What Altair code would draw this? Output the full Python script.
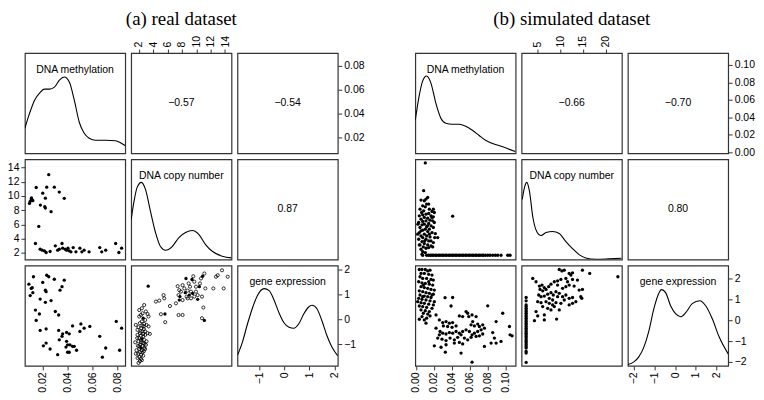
import altair as alt
import pandas as pd

# ---------------- (a) real dataset ----------------
a_meth_cn_x = [0.0248, 0.0147, 0.0232, 0.0293, 0.0200, 0.0333, 0.0221, 0.0373, 0.0107, 0.0099, 0.0115, 0.0093,
               0.0120, 0.0109, 0.0181, 0.0216, 0.0221, 0.0267, 0.0168, 0.0141, 0.0179, 0.0195, 0.0213, 0.0227,
               0.0259, 0.0301, 0.0320, 0.0333, 0.0355, 0.0360, 0.0381, 0.0392, 0.0403, 0.0413, 0.0427, 0.0445,
               0.0467, 0.0499, 0.0515, 0.0533, 0.0573, 0.0659, 0.0675, 0.0707, 0.0787, 0.0813, 0.0835]
a_meth_cn_y = [13.0, 11.2, 11.25, 11.25, 10.4, 10.55, 9.7, 9.67, 9.58, 9.25, 9.44, 8.96,
               9.34, 9.72, 8.73, 8.5, 8.3, 7.79, 5.72, 3.32, 2.52, 2.38, 2.28, 2.05,
               2.19, 2.99, 2.38, 2.52, 3.32, 2.66, 2.52, 2.38, 2.66, 2.28, 2.14, 2.75,
               2.14, 2.66, 2.14, 2.38, 2.14, 2.75, 2.14, 2.38, 3.32, 2.05, 2.66]

a_meth_ge_x = [0.0125, 0.0232, 0.0248, 0.0293, 0.0373, 0.0200, 0.0088, 0.0107, 0.0115, 0.0120, 0.0099, 0.0221,
               0.0227, 0.0355, 0.0339, 0.0179, 0.0221, 0.0267, 0.0141, 0.0173, 0.0301, 0.0328, 0.0147, 0.0179,
               0.0227, 0.0440, 0.0507, 0.0533, 0.0579, 0.0499, 0.0792, 0.0835, 0.0328, 0.0360, 0.0392, 0.0413,
               0.0355, 0.0333, 0.0392, 0.0419, 0.0400, 0.0440, 0.0387, 0.0453, 0.0472, 0.0413, 0.0400, 0.0227,
               0.0205, 0.0259, 0.0320, 0.0659, 0.0707, 0.0819, 0.0680]
a_meth_ge_y = [1.71, 1.77, 1.71, 1.61, 1.57, 1.48, 1.41, 1.24, 1.27, 1.07, 0.95, 1.17,
               1.11, 1.31, 1.17, 0.81, 0.68, 0.75, 0.37, 0.21, 0.31, 0.17, -0.05, -0.45,
               -0.39, -0.27, -0.19, -0.36, -0.29, -0.49, -0.09, -0.36, -0.45, -0.59, -0.53, -0.59,
               -0.69, -0.83, -0.89, -1.03, -1.03, -1.09, -1.12, -1.09, -1.25, -1.33, -1.33, -0.96,
               -1.07, -1.2, -1.43, -0.69, -1.16, -1.25, -1.53]

# copy number vs gene expression: open circles
a_cn_ge_open_x = [2.74, 2.98, 2.51, 2.28, 2.05, 2.88, 2.42, 2.14, 2.74, 2.51, 1.95, 2.33, 2.70, 3.07, 3.35,
                  3.21, 3.53, 2.88, 2.51, 2.14, 1.81, 2.28, 2.60, 2.05, 2.74, 1.95, 2.33, 1.49, 2.60,
                  2.19, 1.86, 2.51, 2.88, 2.05, 1.67, 2.42, 2.70, 2.14, 1.91, 1.58, 2.33, 2.60, 2.05,
                  1.81, 2.28, 2.14, 2.42, 1.95, 2.74, 2.98, 3.07, 1.81, 1.58, 2.05, 2.42, 3.21, 3.35,
                  2.88, 2.60, 2.28, 2.51, 2.05, 2.79, 1.77, 2.23, 2.70,
                  5.44, 5.53, 4.37, 4.84, 6.33, 5.07, 5.67, 7.53, 8.09, 7.40, 7.63, 7.53, 8.09, 8.33,
                  8.65, 9.26, 8.79, 9.12, 9.58, 9.72, 9.95, 10.19, 10.51, 10.65, 11.12, 11.26, 10.79,
                  8.93, 8.09, 7.86, 8.79, 9.26, 9.72, 9.95, 10.98, 10.79, 12.37, 12.74, 12.98, 13.58,
                  13.81, 14.37, 7.16]
a_cn_ge_open_y = [0.57, 0.31, 0.24, 0.17, 0.11, -0.03, -0.09, -0.16, -0.19, -0.27, -0.32, -0.36, -0.40, -0.23, -0.29,
                  -0.56, -0.59, -0.49, -0.49, -0.56, -0.63, -0.67, -0.69, -0.76, -0.83, -0.89, -0.93, -0.93, -0.96,
                  -1.03, -1.07, -1.09, -1.20, -1.20, -1.25, -1.25, -1.29, -1.33, -1.39, -1.39, -1.43, -1.47, -1.52,
                  -1.56, -1.60, -1.69, -1.65, -1.76, -1.16, -1.03, -0.89, -0.43, -0.23, 0.37, 0.44, 0.21, 0.11,
                  -0.63, -0.59, -0.85, -1.33, -1.09, -0.99, -0.76, -0.49, -0.29,
                  0.97, 0.84, 0.71, 0.75, 0.53, 0.20, -0.12, 0.17, 0.17, 1.33, 1.17, 0.97, 1.37, 1.24,
                  0.91, 0.84, 1.15, 1.31, 1.73, 1.51, 1.11, 0.97, 1.44, 1.64, 1.84, 1.24, 0.91,
                  1.44, 0.77, 1.11, 0.84, 1.11, 0.91, 1.31, 0.47, 0.04, 1.24, 1.71, 1.77, 1.97,
                  1.24, 1.71, 0.64]
# copy number vs gene expression: filled dots
a_cn_ge_dot_x = [3.30, 5.63, 7.72, 8.46, 9.02, 9.40, 10.42, 10.88, 9.49, 7.63, 8.56, 11.12, 10.19, 2.60, 2.42, 2.28]
a_cn_ge_dot_y = [1.33, 0.21, 0.91, 1.07, 0.97, 1.60, 1.31, 1.73, 1.04, 0.77, 1.64, -0.05, 0.80, 0.04, -0.80, -1.16]

# densities (diagonal)
a_meth_dx = [0.0056, 0.0094, 0.0134, 0.0174, 0.0214, 0.0254, 0.0294, 0.0334, 0.0374, 0.0414, 0.0454, 0.0494,
             0.0534, 0.0574, 0.0626, 0.0706, 0.0786, 0.0826, 0.0866]
a_meth_dy = [0.25, 0.40, 0.53, 0.60, 0.64, 0.64, 0.66, 0.73, 0.76, 0.71, 0.53, 0.31,
             0.20, 0.15, 0.13, 0.13, 0.126, 0.106, 0.076]
a_cn_dx = [0.93, 1.30, 1.76, 2.36, 2.92, 3.62, 4.32, 5.01, 5.71, 6.64, 7.58, 8.50, 9.43, 10.37, 11.29, 12.22, 13.62, 14.9]
a_cn_dy = [0.40, 0.57, 0.72, 0.77, 0.70, 0.48, 0.27, 0.13, 0.093, 0.13, 0.22, 0.27, 0.29, 0.25, 0.15, 0.083, 0.033, 0.017]
a_ge_dx = [-1.86, -1.66, -1.46, -1.26, -1.07, -0.80, -0.60, -0.41, -0.21, -0.01, 0.19, 0.38, 0.58, 0.78, 0.98,
           1.11, 1.30, 1.50, 1.70, 1.89, 2.13]
a_ge_dy = [0.105, 0.24, 0.42, 0.58, 0.70, 0.77, 0.75, 0.66, 0.53, 0.43, 0.385, 0.375, 0.42, 0.52, 0.59,
           0.605, 0.57, 0.45, 0.30, 0.19, 0.10]
a_corr = ["\u22120.57", "\u22120.54", "0.87"]

# ---------------- (b) simulated dataset ----------------
b_meth_cn_x = [0.0131, 0.0112, 0.0093, 0.0056, 0.0119, 0.0075, 0.0104, 0.0045, 0.0149, 0.0194, 0.0179, 0.0205,
               0.0142, 0.0112, 0.0075, 0.0037, 0.0168, 0.0194, 0.0093, 0.0131, 0.0056, 0.0157, 0.0112, 0.0075,
               0.0187, 0.0205, 0.0030, 0.0142, 0.0093, 0.0067, 0.0168, 0.0119, 0.0045, 0.0194, 0.0104, 0.0149,
               0.0075, 0.0131, 0.0037, 0.0179, 0.0216, 0.0093, 0.0056, 0.0119, 0.0157, 0.0243, 0.0075, 0.0030,
               0.0112, 0.0142, 0.0067, 0.0194, 0.0093, 0.0045, 0.0131, 0.0168, 0.0082, 0.0112, 0.0056, 0.0142,
               0.0075, 0.0037, 0.0187, 0.0104, 0.0019, 0.0022, 0.0067, 0.0104, 0.0086, 0.0410,
               0.0086, 0.0063, 0.0149, 0.0097, 0.0168, 0.0127, 0.0056, 0.0179, 0.0142, 0.0209]
b_meth_cn_y = [15.64, 15.27, 14.90, 15.05, 14.16, 13.79, 13.57, 13.05, 13.05, 13.05, 12.54, 12.31,
               12.09, 11.94, 11.80, 11.58, 11.58, 11.35, 11.21, 11.06, 10.84, 10.61, 10.47, 10.32,
               10.47, 10.10, 10.10, 9.88, 9.73, 9.58, 9.36, 9.14, 8.99, 8.99, 8.62, 8.62,
               8.40, 8.10, 7.88, 7.88, 7.66, 7.51, 7.14, 7.14, 6.92, 6.77, 6.77, 6.40,
               6.40, 6.03, 5.89, 5.66, 5.44, 5.15, 5.15, 4.92, 4.70, 4.41, 4.19, 4.55,
               3.67, 5.15, 4.70, 3.45, 7.51, 9.73, 3.08, 23.25, 17.12, 11.50,
               12.68, 12.31, 7.51, 6.03, 6.03, 9.36, 8.25, 11.21, 14.16, 6.77]
# samples sitting on the copy-number floor
b_cn_floor = 2.86
b_meth_floor_x = [0.0075, 0.0119, 0.0142, 0.0160, 0.0179, 0.0194, 0.0216, 0.0231, 0.0254, 0.0269, 0.0291, 0.0306,
                  0.0328, 0.0343, 0.0366, 0.0381, 0.0403, 0.0418, 0.0440, 0.0455, 0.0478, 0.0493, 0.0515, 0.0530,
                  0.0552, 0.0567, 0.0590, 0.0604, 0.0627, 0.0642, 0.0664, 0.0679, 0.0701, 0.0716, 0.0739, 0.0754,
                  0.0776, 0.0802, 0.0828, 0.0858, 0.0888, 0.0914, 0.0951, 0.1026, 0.1052]

b_meth_ge_x = [0.0037, 0.0067, 0.0104, 0.0131, 0.0157, 0.0056, 0.0093, 0.0142, 0.0179, 0.0045, 0.0075, 0.0119,
               0.0168, 0.0194, 0.0030, 0.0067, 0.0104, 0.0149, 0.0187, 0.0056, 0.0093, 0.0131, 0.0168, 0.0205,
               0.0037, 0.0075, 0.0112, 0.0149, 0.0194, 0.0045, 0.0093, 0.0131, 0.0168, 0.0030, 0.0067, 0.0112,
               0.0157, 0.0205, 0.0056, 0.0093, 0.0142, 0.0037, 0.0075, 0.0119, 0.0179, 0.0056, 0.0104, 0.0149,
               0.0082, 0.0131, 0.0067, 0.0157, 0.0119, 0.0037, 0.0093, 0.0224, 0.0019, 0.0194,
               0.0112, 0.0075, 0.0179, 0.0142, 0.0082,
               0.0261, 0.0299, 0.0336, 0.0373, 0.0410, 0.0306, 0.0354, 0.0403, 0.0448, 0.0485, 0.0522, 0.0578,
               0.0590, 0.0627, 0.0672, 0.0634, 0.0616, 0.0653, 0.0690, 0.0709, 0.0746, 0.0765, 0.0728, 0.0690,
               0.0653, 0.0627, 0.0597, 0.0560, 0.0522, 0.0485, 0.0448, 0.0410, 0.0373, 0.0336, 0.0299, 0.0261,
               0.0243, 0.0291, 0.0336, 0.0381, 0.0429, 0.0466, 0.0504, 0.0541, 0.0578, 0.0616, 0.0672, 0.0709,
               0.0746, 0.0429, 0.0485, 0.0522, 0.0336, 0.0205, 0.0280, 0.0328, 0.0504, 0.0627, 0.0765, 0.0840,
               0.0877, 0.0896, 0.0951, 0.0858, 0.0896, 0.0970, 0.1045, 0.1052, 0.1075, 0.0802, 0.0325, 0.0410,
               0.0392, 0.0560, 0.0269, 0.0224]
b_meth_ge_y = [2.45, 2.45, 2.45, 2.38, 2.42, 2.26, 2.26, 2.22, 2.18, 2.10, 2.02, 2.02,
               1.97, 1.94, 1.86, 1.81, 1.78, 1.74, 1.70, 1.62, 1.58, 1.54, 1.49, 1.46,
               1.42, 1.38, 1.33, 1.30, 1.26, 1.22, 1.17, 1.14, 1.10, 1.06, 1.01, 0.98,
               0.94, 0.90, 0.85, 0.82, 0.78, 0.69, 0.66, 0.62, 0.58, 0.50, 0.46, 0.42,
               0.34, 0.30, 0.18, 0.21, 0.10, 0.05, 0.02, 0.26, 0.90, 0.74,
               -0.14, 1.14, 1.22, 1.86, 1.70,
               0.02, -0.11, -0.06, -0.14, -0.11, -0.27, -0.30, -0.34, -0.27, 0.21, 0.18, 0.34,
               0.18, 0.26, 0.18, -0.06, -0.22, -0.27, -0.18, -0.30, -0.22, -0.38, -0.46, -0.54,
               -0.62, -0.70, -0.54, -0.46, -0.54, -0.62, -0.54, -0.62, -0.59, -0.66, -0.62, -0.70,
               -0.86, -0.91, -0.98, -0.86, -0.94, -0.82, -0.70, -0.86, -0.94, -0.82, -0.78, -0.75,
               -0.66, -1.10, -1.07, -1.14, -1.18, -1.23, -1.30, -1.54, -1.58, -2.02, -1.26, -1.10,
               -0.86, -1.10, -1.02, -0.59, -0.06, 0.34, -0.30, -0.70, -0.75, 0.70, 1.09, 1.10,
               0.69, 0.42, -0.54, -0.38]

b_cn_ge_x = [3.90, 4.63, 9.76, 10.34, 10.86, 11.95, 12.32, 12.69, 14.88, 16.49, 22.71, 5.37, 5.95, 6.46,
             5.51, 6.10, 6.83, 7.42, 7.93, 8.66, 9.39, 10.12, 11.22, 11.59, 12.69, 13.78, 14.15, 14.88,
             5.22, 5.73, 6.46, 7.20, 7.93, 8.44, 9.03, 9.76, 10.49, 11.22, 11.95, 12.69, 13.42, 14.52,
             14.74, 5.00, 5.73, 6.83, 7.56, 8.29, 9.03, 10.12, 10.86, 11.95, 12.69, 6.10, 7.20, 7.93,
             8.66, 9.76, 4.63, 5.00, 6.46, 4.27, 6.46, 9.17, 7.56, 8.29, 9.39, 10.49, 11.22, 11.95,
             13.05, 9.39]
b_cn_ge_y = [2.02, 1.86, 2.45, 2.38, 2.42, 2.26, 2.18, 2.29, 2.42, 2.26, 2.10, 1.65, 1.70, 1.58,
             1.49, 1.42, 1.49, 1.62, 1.74, 1.86, 1.90, 1.97, 2.02, 1.86, 1.97, 1.94, 1.46, 1.49,
             1.22, 1.14, 1.17, 1.26, 1.33, 1.22, 1.38, 1.30, 1.14, 1.22, 1.06, 1.10, 0.90, 1.14,
             1.06, 0.90, 0.85, 0.90, 0.82, 0.74, 0.85, 0.82, 0.98, 0.74, 0.82, 0.66, 0.58, 0.50,
             0.66, 0.50, 0.42, 0.21, 0.26, -0.02, 0.02, 0.06, 1.06, 0.98, 1.14, 1.54, 1.62, 1.70,
             1.65, 1.70]
b_cn_floor_x = 2.44
b_ge_floor_y = [1.10, 0.94, 0.74, 0.66, 0.58, 0.50, 0.42, 0.34, 0.26, 0.18, 0.10, 0.02, -0.06, -0.14,
                -0.22, -0.30, -0.38, -0.46, -0.54, -0.62, -0.70, -0.78, -0.86, -0.94, -1.02, -1.10,
                -1.18, -1.26, -1.34, -1.50, -1.58, -2.03]

b_meth_dx = [-0.0008, 0.0037, 0.0074, 0.0118, 0.0167, 0.0222, 0.0278, 0.0333, 0.0407, 0.0481, 0.0556,
             0.0630, 0.0703, 0.0778, 0.0851, 0.0962, 0.1111]
b_meth_dy = [0.33, 0.58, 0.72, 0.77, 0.70, 0.50, 0.35, 0.30, 0.29, 0.29, 0.27, 0.23, 0.18, 0.13, 0.10, 0.067, 0.017]
b_cn_dx = [1.58, 2.08, 2.59, 3.18, 3.90, 4.78, 5.74, 6.84, 8.30, 9.76, 11.23, 12.68, 14.15, 15.61, 17.8, 20.7, 23.5]
b_cn_dy = [0.60, 0.72, 0.77, 0.68, 0.43, 0.28, 0.24, 0.27, 0.28, 0.26, 0.18, 0.11, 0.05, 0.017, 0.003, 0.007, 0.013]
b_ge_dx = [-2.29, -2.0, -1.76, -1.51, -1.27, -1.03, -0.82, -0.66, -0.46, -0.22, 0.02, 0.27, 0.51, 0.83,
           1.19, 1.48, 1.80, 2.13, 2.57]
b_ge_dy = [0.013, 0.04, 0.09, 0.19, 0.35, 0.57, 0.71, 0.76, 0.73, 0.60, 0.52, 0.49, 0.53, 0.62,
           0.65, 0.60, 0.47, 0.29, 0.12]
b_corr = ["\u22120.66", "\u22120.70", "0.80"]

var_names = ["DNA methylation", "DNA copy number", "gene expression"]
titles = ["(a) real dataset", "(b) simulated dataset"]

# tick values
a_meth_ticks = [0.02, 0.04, 0.06, 0.08]
a_cn_ticks = [2, 4, 6, 8, 10, 12, 14]
a_ge_ticks = [-1, 0, 1, 2]
b_meth_ticks = [0.00, 0.02, 0.04, 0.06, 0.08, 0.10]
b_cn_ticks = [5, 10, 15, 20]
b_ge_ticks = [-2, -1, 0, 1, 2]

# scale domains (x = column use, y = row use)
A_METH_X, A_METH_Y = [0.0056, 0.0864], [0.0068, 0.0909]
A_CN_X, A_CN_Y = [0.93, 14.9], [1.05, 15.17]
A_GE_X, A_GE_Y = [-1.86, 2.13], [-1.88, 2.16]
B_METH_X, B_METH_Y = [-0.0008, 0.1114], [-0.0011, 0.1135]
B_CN_X, B_CN_Y = [1.43, 23.6], [1.9, 24.06]
B_GE_X, B_GE_Y = [-2.29, 2.57], [-2.2, 2.64]

W, H = 101, 101
SANS = "Liberation Sans"
FS = 10.5


def sc(dom):
    return alt.Scale(domain=dom, nice=False, zero=False)


def ax(orient, values, fmt):
    if orient in ("top", "bottom"):
        return alt.Axis(orient=orient, values=values, format=fmt, labelAngle=270, title=None)
    return alt.Axis(orient=orient, values=values, format=fmt, title=None)


def carrier(channel, dom, axis):
    base = alt.Chart(pd.DataFrame({"v": dom})).mark_point(opacity=0)
    if channel == "x":
        return base.encode(x=alt.X("v:Q", scale=sc(dom), axis=axis))
    return base.encode(y=alt.Y("v:Q", scale=sc(dom), axis=axis))


def scatter(xs, ys, xdom, ydom, xaxis=None, yaxis=None, hollow=False):
    df = pd.DataFrame({"x": xs, "y": ys})
    if hollow:
        m = alt.Chart(df).mark_point(filled=False, size=10, strokeWidth=0.8, color="black", opacity=1, clip=True)
    else:
        m = alt.Chart(df).mark_point(filled=True, size=11, color="black", opacity=1, clip=True)
    return m.encode(
        x=alt.X("x:Q", scale=sc(xdom), axis=xaxis),
        y=alt.Y("y:Q", scale=sc(ydom), axis=yaxis),
    )


def label_layer(text, ypos):
    return alt.Chart(pd.DataFrame({"t": [text]})).mark_text(
        font=SANS, fontSize=FS, color="black", baseline="middle", align="center"
    ).encode(x=alt.value(W / 2), y=alt.value(ypos), text="t:N")


def text_panel(text, car, title=None):
    ch = alt.layer(label_layer(text, H / 2), car).properties(width=W, height=H)
    if title is not None:
        ch = ch.properties(title=alt.TitleParams(
            text=title, font="Liberation Serif", fontSize=19, fontWeight="normal",
            color="black", anchor="middle", offset=7))
    return ch


def diag_panel(dx, dy, xdom, name, xaxis=None, right=None):
    line = alt.Chart(pd.DataFrame({"x": dx, "d": dy})).mark_line(
        color="black", strokeWidth=1.1, interpolate="monotone", clip=True
    ).encode(
        x=alt.X("x:Q", scale=sc(xdom), axis=xaxis),
        y=alt.Y("d:Q", scale=alt.Scale(domain=[0, 1]), axis=None),
    )
    layers = [line, label_layer(name, 17)]
    if right is not None:
        layers.append(right)
        return alt.layer(*layers).resolve_scale(y="independent").properties(width=W, height=H)
    return alt.layer(*layers).properties(width=W, height=H)


def spacer():
    return alt.Chart(pd.DataFrame({"t": [0]})).mark_point(opacity=0).encode(
        x=alt.value(0), y=alt.value(0)
    ).properties(width=66, height=H, view={"stroke": "transparent"})


# ----- panels of (a)
a11 = diag_panel(a_meth_dx, a_meth_dy, A_METH_X, var_names[0])
a12 = text_panel(a_corr[0], carrier("x", A_CN_X, ax("top", a_cn_ticks, "d")), titles[0])
a13 = text_panel(a_corr[1], carrier("y", A_METH_Y, ax("right", a_meth_ticks, ".2f")))
a21 = scatter(a_meth_cn_x, a_meth_cn_y, A_METH_X, A_CN_Y, yaxis=ax("left", a_cn_ticks, "d")).properties(width=W, height=H)
a22 = diag_panel(a_cn_dx, a_cn_dy, A_CN_X, var_names[1])
a23 = text_panel(a_corr[2], carrier("y", A_CN_Y, None))
a31 = scatter(a_meth_ge_x, a_meth_ge_y, A_METH_X, A_GE_Y, xaxis=ax("bottom", a_meth_ticks, ".2f")).properties(width=W, height=H)
a32 = alt.layer(
    scatter(a_cn_ge_open_x, a_cn_ge_open_y, A_CN_X, A_GE_Y, hollow=True),
    scatter(a_cn_ge_dot_x, a_cn_ge_dot_y, A_CN_X, A_GE_Y),
).properties(width=W, height=H)
a33 = diag_panel(a_ge_dx, a_ge_dy, A_GE_X, var_names[2], xaxis=ax("bottom", a_ge_ticks, "d"),
                 right=carrier("y", A_GE_Y, ax("right", a_ge_ticks, "d")))

# ----- panels of (b)
b11 = diag_panel(b_meth_dx, b_meth_dy, B_METH_X, var_names[0])
b12 = text_panel(b_corr[0], carrier("x", B_CN_X, ax("top", b_cn_ticks, "d")), titles[1])
b13 = text_panel(b_corr[1], carrier("y", B_METH_Y, ax("right", b_meth_ticks, ".2f")))
b21 = alt.layer(
    scatter(b_meth_cn_x, b_meth_cn_y, B_METH_X, B_CN_Y, yaxis=ax("left", b_cn_ticks, "d")),
    scatter(b_meth_floor_x, [b_cn_floor] * len(b_meth_floor_x), B_METH_X, B_CN_Y),
).properties(width=W, height=H)
b22 = diag_panel(b_cn_dx, b_cn_dy, B_CN_X, var_names[1])
b23 = text_panel(b_corr[2], carrier("y", B_CN_Y, None))
b31 = scatter(b_meth_ge_x, b_meth_ge_y, B_METH_X, B_GE_Y, xaxis=ax("bottom", b_meth_ticks, ".2f")).properties(width=W, height=H)
b32 = alt.layer(
    scatter(b_cn_ge_x, b_cn_ge_y, B_CN_X, B_GE_Y),
    scatter([b_cn_floor_x] * len(b_ge_floor_y), b_ge_floor_y, B_CN_X, B_GE_Y),
).properties(width=W, height=H)
b33 = diag_panel(b_ge_dx, b_ge_dy, B_GE_X, var_names[2], xaxis=ax("bottom", b_ge_ticks, "d"),
                 right=carrier("y", B_GE_Y, ax("right", b_ge_ticks, "d")))

cells = [a11, a12, a13, spacer(), b11, b12, b13,
         a21, a22, a23, spacer(), b21, b22, b23,
         a31, a32, a33, spacer(), b31, b32, b33]

chart = alt.concat(*cells, columns=7, spacing=6, bounds="flush").properties(
    padding={"left": -2, "top": -1, "right": 0, "bottom": 0}
).configure_view(
    stroke="#333333", strokeWidth=1.2
).configure_axis(
    labelFont=SANS, labelFontSize=FS, labelColor="black", tickColor="#333333",
    tickSize=4, tickWidth=1, domain=False, grid=False, labelPadding=2,
    labelFlush=False, labelOverlap=False
).configure_text(font=SANS)

chart.save("out.html", embed_options={"renderer": "svg", "actions": False})
